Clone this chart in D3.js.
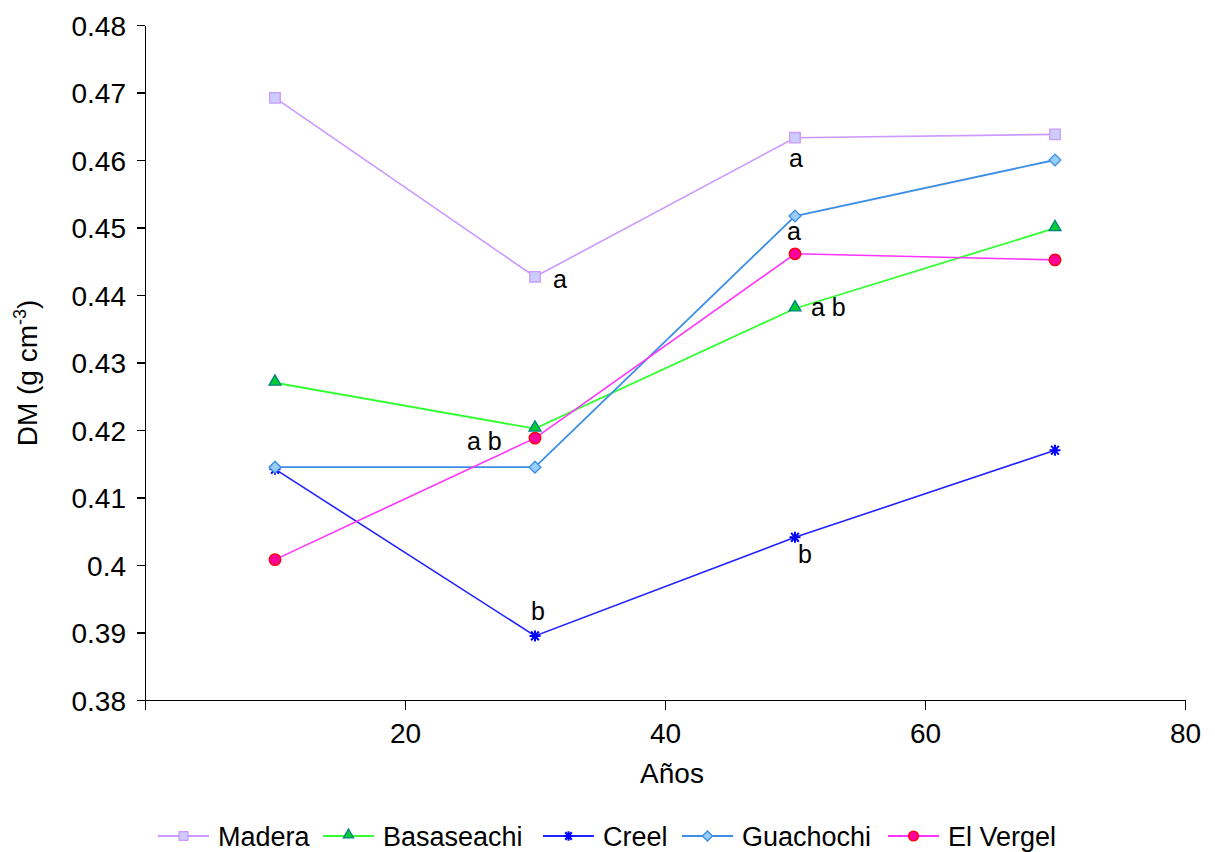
<!DOCTYPE html>
<html>
<head>
<meta charset="utf-8">
<script src="https://cdn.jsdelivr.net/npm/d3@7"></script>
<style>
  body { margin: 0; background: #fff; }
  #graf text { font-family: "Liberation Sans", Arial, sans-serif; fill: #000; }
  .ejes path, .ejes line { stroke: #000; stroke-width: 1.5; shape-rendering: crispEdges; }
</style>
</head>
<body>
<div id="graf"></div>
<script>
// edades (años) y densidad media por sitio
const anios = [10, 30, 50, 70]
const sitios = ["Madera", "Basaseachi", "Creel", "Guachochi", "El Vergel"]
const madera = [0.4692, 0.4427, 0.4633, 0.4638]
const basaseachi = [0.4270, 0.4202, 0.4380, 0.4499]
const creel = [0.4142, 0.3895, 0.4041, 0.4170]
const guachochi = [0.4145, 0.4145, 0.4517, 0.4600]
const elVergel = [0.4008, 0.4188, 0.4461, 0.4452]
const yTicks = [0.38, 0.39, 0.40, 0.41, 0.42, 0.43, 0.44, 0.45, 0.46, 0.47, 0.48]
const xTicks = [0, 20, 40, 60, 80]
// letras de comparación: sitio, año, texto
const letras = [
  ["Madera", 30, "a"],
  ["Basaseachi", 30, "a b"],
  ["Creel", 30, "b"],
  ["Madera", 50, "a"],
  ["Guachochi", 50, "a"],
  ["Basaseachi", 50, "a b"],
  ["Creel", 50, "b"]
]

const valores = [madera, basaseachi, creel, guachochi, elVergel]
const series = sitios.map((s, i) => ({
  nombre: s,
  puntos: anios.map((a, j) => ({ anio: a, dm: valores[i][j] }))
}))

const estilos = {
  "Madera":     { linea: "#cc99ff", relleno: "#ccccff", borde: "#cc99ff", forma: "cuadro", ancho: 1.6 },
  "Basaseachi": { linea: "#33ff33", relleno: "#00cc33", borde: "#008080", forma: "triangulo", ancho: 1.8 },
  "Creel":      { linea: "#2222ff", relleno: "#0000ff", borde: "#0000ff", forma: "asterisco", ancho: 1.6 },
  "Guachochi":  { linea: "#3d8ee6", relleno: "#99ccff", borde: "#3d8ee6", forma: "diamante", ancho: 1.8 },
  "El Vergel":  { linea: "#ff33ff", relleno: "#ff0099", borde: "#ff0000", forma: "circulo", ancho: 1.6 }
}

// desplazamiento de cada letra respecto a su punto (px)
const offsets = {
  "Madera-30": [18, 11], "Basaseachi-30": [-68, 21], "Creel-30": [-4, -16],
  "Madera-50": [-6, 29], "Guachochi-50": [-8, 24], "Basaseachi-50": [16, 7], "Creel-50": [3, 26]
}

const graf = d3.select("#graf")
const anchoTotal = 1215
const altoTotal = 852

const svg = graf.append("svg")
  .attr("width", anchoTotal)
  .attr("height", altoTotal)

const x = d3.scaleLinear().domain([0, 80]).range([145, 1185])
const y = d3.scaleLinear().domain([0.38, 0.48]).range([700, 25])

const xAxis = d3.axisBottom(x).tickValues(xTicks).tickSize(10).tickSizeOuter(0)
  .tickFormat((d) => (d === 0 ? "" : d))
const yAxis = d3.axisLeft(y).tickValues(yTicks).tickSize(8).tickSizeOuter(0)
  .tickFormat((d) => d3.format("")(+d.toFixed(2)))

const gx = svg.append("g")
  .attr("class", "ejes")
  .attr("transform", `translate(0, ${y(0.38)})`)
  .call(xAxis)
gx.selectAll("text").attr("font-size", 28).attr("dy", 0).attr("y", 43)

const gy = svg.append("g")
  .attr("class", "ejes")
  .attr("transform", `translate(${x(0)}, 0)`)
  .call(yAxis)
gy.selectAll("text").attr("font-size", 28).attr("x", -19).attr("dy", "0.36em")

svg.append("text")
  .attr("x", 672)
  .attr("y", 783)
  .attr("text-anchor", "middle")
  .attr("font-size", 28)
  .text("Años")

const yTitulo = svg.append("text")
  .attr("transform", "translate(37, 373) rotate(-90)")
  .attr("text-anchor", "middle")
  .attr("font-size", 28)
yTitulo.append("tspan").text("DM (g cm")
yTitulo.append("tspan").attr("font-size", 18).attr("dy", -11).text("-3")
yTitulo.append("tspan").attr("dy", 11).text(")")

const asterisco = (r) => {
  const p = d3.path()
  p.moveTo(-r, 0); p.lineTo(r, 0)
  p.moveTo(-r * 0.7, -r * 0.8); p.lineTo(r * 0.7, r * 0.8)
  p.moveTo(-r * 0.7, r * 0.8); p.lineTo(r * 0.7, -r * 0.8)
  p.moveTo(0, -r); p.lineTo(0, r)
  return p.toString()
}

const marcador = (sel, e, k) => {
  if (e.forma === "asterisco") {
    sel.append("path").attr("d", asterisco(5.5 * k))
      .attr("fill", "none").attr("stroke", e.borde).attr("stroke-width", 2)
    return
  }
  const tipos = {
    cuadro: [d3.symbolSquare, 110],
    triangulo: [d3.symbolTriangle, 62],
    diamante: [d3.symbolSquare, 70],
    circulo: [d3.symbolCircle, 105]
  }
  const [t, area] = tipos[e.forma]
  let tr = null
  if (e.forma === "triangulo") tr = "translate(0,-1)"
  if (e.forma === "diamante") tr = "rotate(45)"
  sel.append("path")
    .attr("d", d3.symbol().type(t).size(area * k * k)())
    .attr("transform", tr)
    .attr("fill", e.relleno)
    .attr("stroke", e.borde)
    .attr("stroke-width", 1.3)
}

const linea = d3.line().x((d) => x(d.anio)).y((d) => y(d.dm))

const grupos = svg.selectAll("g.serie")
  .data(series)
  .join("g")
  .attr("class", "serie")

grupos.append("path")
  .attr("d", (d) => linea(d.puntos))
  .attr("fill", "none")
  .attr("stroke", (d) => estilos[d.nombre].linea)
  .attr("stroke-width", (d) => estilos[d.nombre].ancho)

grupos.each(function (s) {
  const e = estilos[s.nombre]
  d3.select(this).selectAll("g.punto")
    .data(s.puntos)
    .join("g")
    .attr("class", "punto")
    .attr("transform", (d) => `translate(${x(d.anio)}, ${y(d.dm)})`)
    .each(function () { marcador(d3.select(this), e, 1) })
})

// letras
letras.forEach(([sitio, anio, txt]) => {
  const i = sitios.indexOf(sitio)
  const j = anios.indexOf(anio)
  const [dx, dy] = offsets[`${sitio}-${anio}`]
  svg.append("text")
    .attr("x", x(anio) + dx)
    .attr("y", y(valores[i][j]) + dy)
    .attr("font-size", 25)
    .text(txt)
})

// leyenda
const leyX = [158, 323, 543, 682, 888]
const leyenda = svg.selectAll("g.ley")
  .data(sitios)
  .join("g")
  .attr("class", "ley")
  .attr("transform", (d, i) => `translate(${leyX[i]}, 836)`)

leyenda.append("line")
  .attr("x1", 0).attr("x2", 51)
  .attr("stroke", (d) => estilos[d].linea)
  .attr("stroke-width", 2)
leyenda.each(function (d) {
  const g = d3.select(this).append("g").attr("transform", "translate(25.5, 0)")
  marcador(g, estilos[d], 0.85)
})
leyenda.append("text")
  .attr("x", 60)
  .attr("y", 10)
  .attr("font-size", 27)
  .text((d) => d)
</script>
</body>
</html>
